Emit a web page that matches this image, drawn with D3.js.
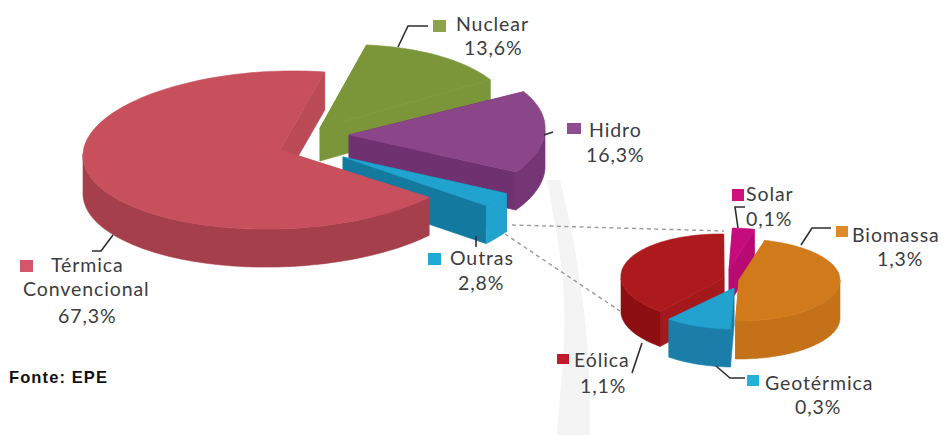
<!DOCTYPE html>
<html lang="pt">
<head>
<meta charset="utf-8">
<title>Matriz elétrica</title>
<script src="https://cdn.jsdelivr.net/npm/d3@7/dist/d3.min.js"></script>
<style>
  html, body { margin: 0; padding: 0; background: #fff; }
  svg { display: block; }
  .lbl { font-family: Lato, "Open Sans", sans-serif; font-size: 19.5px; fill: #3c3c40; letter-spacing: .9px; }
  .src { font-family: "Liberation Sans", Arial, sans-serif; font-size: 16.5px; font-weight: 700; fill: #111; letter-spacing: 1.1px; }
</style>
</head>
<body>
<svg id="chart" width="944" height="435"></svg>
<script>
// Shares of the electricity matrix (%)
const mainNames = ["Térmica Convencional", "Nuclear", "Hidro", "Outras"];
const mainValues = [67.3, 13.6, 16.3, 2.8];
const otherNames = ["Solar", "Biomassa", "Geotérmica", "Eólica"];
const otherValues = [0.1, 1.3, 0.3, 1.1];

const deg = Math.PI / 180;

// Colours for each slice: top face, outer wall, cut face
const mainPalette = [
  { top: "#c7505c", wall: "#a53f4b", side: "#b94a56", key: "#d4566a" },
  { top: "#7b9639", wall: "#7b9639", side: "#7b9639", key: "#8ba44a" },
  { top: "#8b4589", wall: "#763575", side: "#6f3170", key: "#8f4c8e" },
  { top: "#20a3cf", wall: "#20a3cf", side: "#14799f", key: "#22a9d6" }
];
const otherPalette = [
  { top: "#c60c7d", wall: "#b80a72", side: "#b80a72", key: "#d1117f" },
  { top: "#d07a1c", wall: "#c5711a", side: "#c5711a", key: "#e08a27" },
  { top: "#22a2cf", wall: "#1b7ea9", side: "#1b7ea9", key: "#22b1dc" },
  { top: "#ad1a1e", wall: "#8e0f12", side: "#a5181c", key: "#c21a2a" }
];

// Placement of each exploded slice on the projected ellipse
const mainPose = [
  { cx: 280, cy: 150, rx: 197, ry: 79, depth: 38, sx: -4, sy: -4 },
  { cx: 320, cy: 128, rx: 191, ry: 83, depth: 33, sx: -7, sy: -9 },
  { cx: 349, cy: 135, rx: 196, ry: 82, depth: 38, sx: -7, sy: -4 },
  { cx: 343, cy: 157, rx: 192, ry: 81, depth: 38, sx: -7, sy: -4 }
];
const otherPose = [
  { cx: 729, cy: 270, rx: 100, ry: 42, depth: 34, sx: 0, sy: 0 },
  { cx: 739, cy: 280, rx: 101, ry: 41, depth: 38, sx: 0, sy: 0 },
  { cx: 734, cy: 288, rx: 100, ry: 41, depth: 38, sx: 0, sy: 0 },
  { cx: 724, cy: 278, rx: 103, ry: 44, depth: 35, sx: 4, sy: 0 }
];

const mainDrawOrder = [1, 2, 3, 0];
const otherDrawOrder = [0, 3, 1, 2];

// d3.pie runs clockwise from the top; shifted so each group starts where it should
const mainPie = d3.pie().sort(null).startAngle(129.7 * deg).endAngle(489.7 * deg);
const otherPie = d3.pie().sort(null).startAngle(2 * deg).endAngle(362 * deg);

const svg = d3.select("#chart");
const line = d3.line();

// Faint swoosh running behind the second pie
svg.append("path")
  .attr("d", d3.area().curve(d3.curveBasis)
    .y(d => d[0]).x0(d => d[1]).x1(d => d[2])([
      [180, 547, 560], [180, 547, 560], [230, 556, 572], [280, 564, 580], [340, 565, 588],
      [395, 560, 590], [435, 557, 590], [435, 557, 590]
    ]))
  .attr("fill", "#f4f4f5");

// Dashed links from the Outras slice to the second pie
svg.append("g").selectAll("line")
  .data([[512, 225, 724, 231], [505, 234, 620, 311]])
  .join("line")
  .attr("x1", d => d[0]).attr("y1", d => d[1])
  .attr("x2", d => d[2]).attr("y2", d => d[3])
  .attr("stroke", "#9a9a9a").attr("stroke-width", 1.4).attr("stroke-dasharray", "4 3.5");

function project(p, t) {
  return [
    p.cx + p.rx * Math.cos(t) + p.sx * Math.sin(t),
    p.cy + p.ry * Math.sin(t) + p.sy * Math.cos(t)
  ];
}

function arcPoints(p, a0, a1) {
  const n = Math.max(2, Math.ceil((a1 - a0) / (2 * deg)));
  return d3.range(n + 1).map(i => project(p, a0 + (a1 - a0) * i / n));
}

function drawPie(values, pie, poses, palette, order) {
  const arcs = pie(values);
  order.forEach(i => {
    const p = poses[i], c = palette[i];
    // Pie angles measured from 12 o'clock converted to screen parameter angles
    const a0 = arcs[i].startAngle - Math.PI / 2;
    const a1 = arcs[i].endAngle - Math.PI / 2;
    const g = svg.append("g").attr("class", "slice");
    const drop = pts => pts.map(q => [q[0], q[1] + p.depth]);
    const face = (pts, col) => g.append("path")
      .attr("d", line(pts) + "Z")
      .attr("fill", col).attr("stroke", col).attr("stroke-width", 0.6);

    // Cut faces running from the apex to both corners
    [a0, a1].forEach(a => {
      const apex = [p.cx, p.cy], rim = project(p, a);
      face([apex, rim, ...drop([rim]), ...drop([apex])], c.side);
    });

    // Outer wall, only the part of the rim that faces the viewer
    const k0 = Math.ceil((a0 - Math.PI) / (2 * Math.PI));
    const k1 = Math.floor((a1) / (2 * Math.PI));
    for (let k = k0 - 1; k <= k1 + 1; k++) {
      const from = Math.max(a0, k * 2 * Math.PI);
      const to = Math.min(a1, k * 2 * Math.PI + Math.PI);
      if (to <= from) continue;
      const rim = arcPoints(p, from, to);
      face([...rim, ...drop(rim).reverse()], c.wall);
    }

    // Top face
    face([[p.cx, p.cy], ...arcPoints(p, a0, a1)], c.top);
  });
}

drawPie(mainValues, mainPie, mainPose, mainPalette, mainDrawOrder);
drawPie(otherValues, otherPie, otherPose, otherPalette, otherDrawOrder);

// Leader lines from slices to their labels
const leaders = [
  [[398, 47], [408, 26], [428, 26]],
  [[544, 135], [553, 132]],
  [[476, 236], [476, 247]],
  [[113, 235], [101, 251], [92, 251]],
  [[738, 228], [735, 207], [745, 207]],
  [[801, 245], [812, 228], [831, 228]],
  [[642, 343], [632, 373]],
  [[716, 366], [730, 378], [745, 378]]
];
svg.append("g").selectAll("path").data(leaders).join("path")
  .attr("d", d => line(d)).attr("fill", "none")
  .attr("stroke", "#2e2e30").attr("stroke-width", 1.6);

// Legend keys and labels
const labels = [
  { key: [433, 20, 13, 12], color: mainPalette[1].key, lines: [[456, 31, mainNames[1]], [464, 55, "13,6%"]] },
  { key: [567, 123, 14, 11], color: mainPalette[2].key, lines: [[589, 137, mainNames[2]], [586, 162, "16,3%"]] },
  { key: [428, 253, 13, 12], color: mainPalette[3].key, lines: [[450, 265, mainNames[3]], [458, 290, "2,8%"]] },
  { key: [20, 260, 13, 12], color: mainPalette[0].key, lines: [[51, 272, "Térmica"], [23, 296, "Convencional"], [58, 323, "67,3%"]] },
  { key: [732, 189, 12, 12], color: otherPalette[0].key, lines: [[746, 201, otherNames[0]], [746, 226, "0,1%"]] },
  { key: [836, 226, 12, 11], color: otherPalette[1].key, lines: [[852, 242, otherNames[1]], [877, 266, "1,3%"]] },
  { key: [747, 375, 12, 11], color: otherPalette[2].key, lines: [[765, 390, otherNames[2]], [795, 414, "0,3%"]] },
  { key: [557, 354, 12, 10], color: otherPalette[3].key, lines: [[574, 367, otherNames[3]], [580, 393, "1,1%"]] }
];
labels.forEach(l => {
  svg.append("rect")
    .attr("x", l.key[0]).attr("y", l.key[1])
    .attr("width", l.key[2]).attr("height", l.key[3])
    .attr("fill", l.color);
  l.lines.forEach(t => {
    svg.append("text").attr("class", "lbl")
      .attr("x", t[0]).attr("y", t[1]).text(t[2]);
  });
});

svg.append("text").attr("class", "src").attr("x", 9).attr("y", 383).text("Fonte: EPE");
</script>
</body>
</html>
